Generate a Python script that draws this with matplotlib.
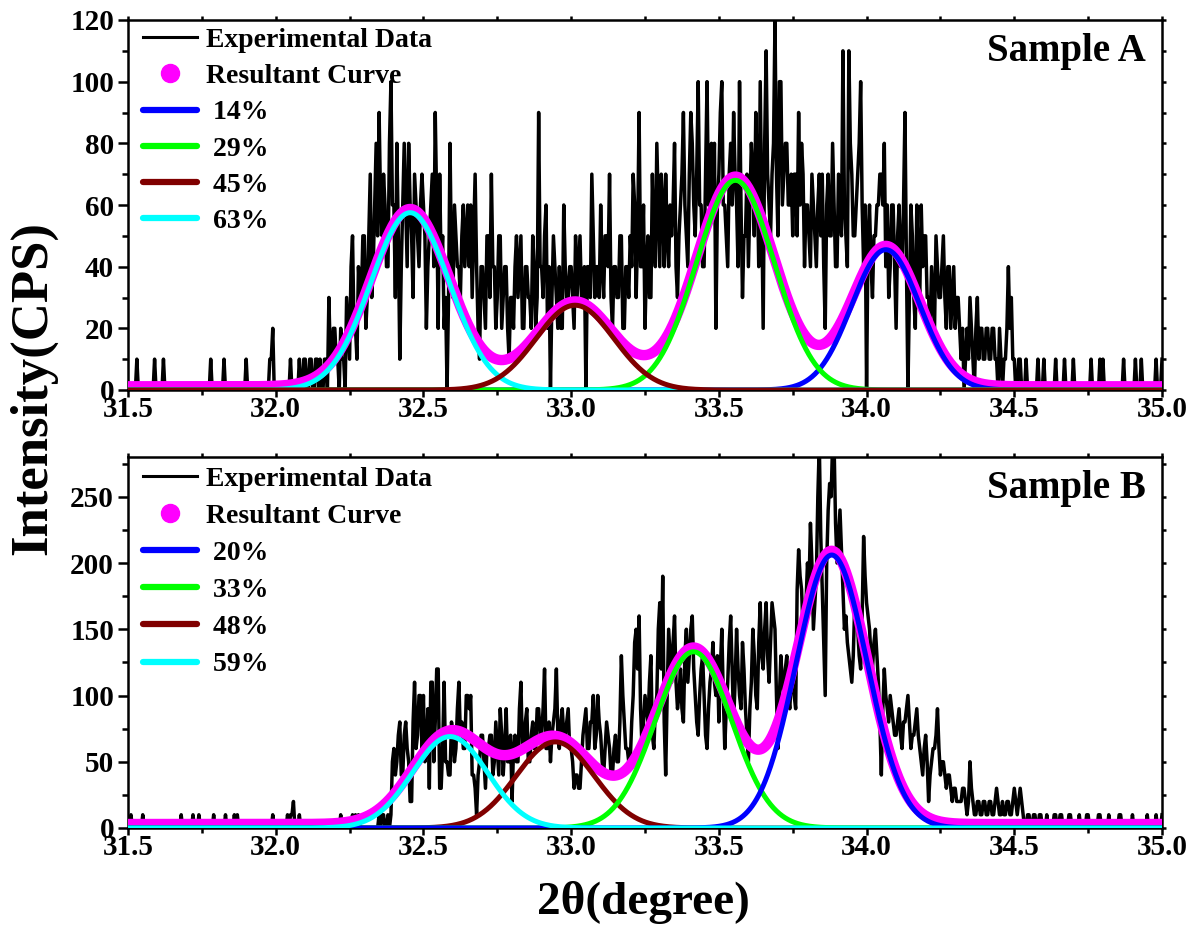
import numpy as np
import matplotlib
matplotlib.use("Agg")
import matplotlib.pyplot as plt
from matplotlib.lines import Line2D
from matplotlib.ticker import MultipleLocator, FormatStrFormatter

plt.rcParams['font.family'] = ['Liberation Serif', 'DejaVu Serif']
plt.rcParams['font.weight'] = 'bold'

# 2-theta scan grid (degrees), 0.005 step
two_theta = np.round(np.linspace(31.50, 35.00, 701), 3)

# Measured counts, Sample A (one row per 0.1 degree)
counts_a = sum([
    [0, 0, 0, 0, 0, 0, 10, 0, 0, 0, 0, 0, 0, 0, 0, 0, 0, 0, 10, 0],
    [0, 0, 0, 0, 10, 0, 0, 0, 0, 0, 0, 0, 0, 0, 0, 0, 0, 0, 0, 0],
    [0, 0, 0, 0, 0, 0, 0, 0, 0, 0, 0, 0, 0, 0, 0, 0, 10, 0, 0, 0],
    [0, 0, 0, 0, 0, 10, 0, 0, 0, 0, 0, 0, 0, 0, 0, 0, 0, 0, 0, 0],
    [10, 0, 0, 0, 0, 0, 0, 0, 0, 0, 0, 0, 0, 0, 0, 0, 10, 10, 20, 0],
    [0, 0, 0, 0, 0, 0, 0, 0, 0, 0, 10, 0, 0, 0, 0, 0, 10, 0, 0, 10],
    [10, 0, 0, 10, 10, 0, 0, 10, 10, 0, 10, 0, 0, 10, 10, 0, 30, 10, 10, 20],
    [20, 10, 10, 0, 20, 10, 10, 0, 30, 20, 10, 40, 50, 20, 20, 10, 40, 30, 30, 50],
    [50, 20, 30, 50, 70, 30, 40, 60, 80, 50, 90, 60, 50, 70, 60, 40, 40, 80, 100, 60],
    [60, 30, 80, 50, 10, 40, 60, 80, 60, 40, 80, 60, 50, 30, 70, 60, 50, 40, 60, 70],
    [60, 50, 20, 40, 50, 60, 70, 40, 90, 60, 20, 70, 40, 50, 20, 30, 0, 30, 80, 40],
    [30, 60, 50, 40, 40, 30, 50, 60, 40, 50, 60, 40, 60, 30, 50, 70, 40, 20, 10, 40],
    [40, 30, 20, 50, 50, 30, 70, 40, 40, 20, 30, 50, 50, 20, 30, 40, 40, 20, 10, 30],
    [30, 20, 40, 50, 30, 40, 50, 20, 20, 40, 40, 30, 30, 20, 50, 40, 20, 30, 90, 40],
    [40, 30, 50, 60, 20, 40, 0, 30, 50, 40, 30, 20, 40, 20, 20, 60, 40, 30, 30, 40],
    [40, 30, 20, 50, 30, 40, 50, 30, 30, 40, 0, 40, 40, 30, 70, 50, 30, 40, 40, 30],
    [60, 40, 30, 50, 50, 40, 70, 30, 20, 40, 40, 30, 30, 50, 50, 20, 20, 40, 40, 30],
    [50, 40, 70, 60, 30, 50, 90, 40, 40, 60, 20, 40, 50, 30, 30, 70, 50, 40, 80, 60],
    [40, 70, 60, 40, 70, 50, 40, 60, 50, 60, 80, 40, 30, 50, 60, 70, 90, 60, 50, 40],
    [70, 90, 80, 60, 50, 70, 100, 60, 60, 40, 40, 70, 100, 60, 60, 80, 60, 80, 20, 60],
    [70, 90, 100, 60, 60, 50, 40, 70, 80, 60, 90, 70, 60, 40, 100, 60, 30, 50, 50, 70],
    [40, 60, 80, 70, 50, 90, 70, 40, 100, 60, 20, 80, 110, 70, 60, 50, 70, 80, 120, 70],
    [50, 100, 100, 60, 70, 80, 80, 60, 60, 70, 50, 70, 70, 50, 90, 60, 80, 70, 40, 60],
    [60, 50, 40, 70, 60, 50, 40, 60, 70, 50, 70, 40, 20, 60, 70, 50, 50, 80, 60, 40],
    [40, 70, 60, 50, 110, 60, 50, 40, 110, 80, 70, 50, 50, 60, 70, 80, 100, 60, 40, 60],
    [0, 50, 60, 40, 30, 50, 50, 60, 60, 70, 70, 60, 80, 40, 60, 30, 40, 60, 60, 40],
    [20, 50, 60, 40, 40, 60, 90, 40, 0, 30, 60, 50, 30, 20, 60, 40, 30, 60, 40, 50],
    [50, 30, 30, 20, 40, 30, 20, 50, 40, 30, 30, 40, 50, 30, 20, 40, 40, 20, 30, 40],
    [20, 30, 30, 20, 10, 20, 0, 10, 20, 10, 30, 20, 10, 0, 20, 30, 10, 20, 20, 10],
    [10, 20, 20, 10, 10, 20, 20, 10, 10, 0, 20, 10, 0, 10, 10, 20, 40, 20, 30, 10],
    [10, 0, 0, 10, 10, 0, 0, 0, 10, 0, 0, 0, 0, 0, 0, 0, 10, 0, 0, 0],
    [10, 0, 0, 0, 0, 0, 0, 0, 10, 0, 0, 0, 0, 0, 10, 0, 0, 0, 0, 0],
    [10, 0, 0, 0, 0, 0, 0, 0, 0, 0, 0, 0, 10, 0, 0, 0, 0, 0, 10, 0],
    [10, 0, 0, 0, 0, 0, 0, 0, 0, 0, 0, 0, 0, 0, 10, 0, 0, 0, 0, 0],
    [0, 0, 10, 0, 0, 0, 10, 0, 0, 0, 0, 0, 0, 0, 0, 0, 10, 0, 0, 0],
    [10],
], [])

# Measured counts, Sample B (one row per 0.1 degree)
counts_b = sum([
    [0, 0, 10, 0, 0, 0, 0, 0, 0, 0, 10, 0, 0, 0, 0, 0, 0, 0, 0, 0],
    [0, 0, 0, 0, 0, 0, 0, 0, 0, 0, 0, 0, 0, 0, 0, 0, 10, 0, 0, 0],
    [0, 0, 0, 0, 10, 0, 0, 0, 10, 0, 0, 0, 0, 0, 0, 0, 0, 0, 10, 0],
    [0, 0, 0, 0, 0, 0, 10, 0, 0, 0, 0, 0, 10, 0, 10, 0, 0, 0, 0, 0],
    [0, 0, 0, 0, 0, 0, 0, 0, 0, 0, 0, 0, 0, 0, 0, 0, 0, 0, 10, 0],
    [0, 0, 0, 0, 0, 0, 0, 0, 10, 0, 10, 10, 20, 0, 0, 0, 10, 0, 0, 0],
    [0, 0, 0, 0, 0, 0, 0, 0, 0, 0, 0, 0, 0, 0, 0, 0, 0, 0, 0, 0],
    [0, 0, 0, 0, 10, 0, 0, 0, 0, 0, 0, 0, 10, 0, 10, 0, 10, 0, 0, 0],
    [0, 0, 0, 0, 0, 0, 0, 0, 0, 0, 10, 0, 10, 10, 0, 0, 10, 0, 10, 50],
    [60, 40, 50, 70, 80, 40, 40, 70, 80, 60, 50, 20, 20, 80, 110, 60, 70, 100, 100, 60],
    [100, 50, 60, 90, 30, 110, 110, 50, 80, 120, 120, 30, 30, 60, 110, 50, 50, 40, 40, 80],
    [70, 50, 60, 90, 110, 70, 80, 60, 60, 100, 100, 90, 100, 40, 40, 30, 10, 40, 50, 70],
    [70, 50, 30, 60, 60, 70, 70, 40, 50, 80, 60, 40, 90, 70, 40, 60, 90, 50, 50, 70],
    [20, 60, 70, 50, 50, 90, 110, 60, 60, 80, 90, 50, 50, 70, 80, 60, 60, 90, 90, 70],
    [70, 90, 120, 60, 60, 80, 50, 70, 80, 90, 120, 70, 60, 80, 90, 70, 70, 80, 90, 60],
    [60, 50, 30, 40, 40, 30, 30, 50, 70, 80, 90, 60, 60, 80, 80, 100, 60, 70, 100, 80],
    [70, 50, 40, 60, 80, 70, 60, 40, 40, 60, 70, 50, 50, 80, 130, 100, 80, 60, 60, 50],
    [50, 80, 100, 140, 150, 120, 160, 90, 60, 80, 100, 90, 80, 110, 130, 70, 60, 90, 100, 150],
    [170, 120, 190, 80, 40, 100, 150, 130, 110, 140, 160, 110, 90, 100, 120, 90, 80, 130, 150, 110],
    [130, 150, 160, 120, 100, 80, 70, 100, 120, 130, 100, 70, 60, 90, 110, 120, 140, 110, 100, 130],
    [80, 120, 150, 100, 60, 90, 110, 140, 160, 120, 80, 110, 150, 120, 100, 90, 140, 120, 90, 70],
    [50, 90, 110, 150, 130, 100, 90, 140, 170, 130, 120, 150, 170, 130, 110, 140, 170, 160, 150, 100],
    [60, 100, 130, 110, 100, 120, 130, 100, 90, 110, 120, 100, 90, 180, 210, 190, 180, 150, 150, 170],
    [200, 180, 230, 200, 150, 170, 190, 250, 290, 220, 180, 140, 100, 200, 240, 260, 250, 290, 290, 230],
    [200, 220, 240, 210, 180, 150, 160, 140, 130, 120, 110, 130, 170, 160, 150, 130, 120, 160, 220, 190],
    [170, 160, 150, 130, 120, 140, 150, 130, 110, 80, 40, 90, 120, 100, 90, 80, 100, 90, 80, 70],
    [70, 80, 90, 70, 60, 80, 80, 90, 100, 80, 60, 70, 70, 80, 90, 70, 60, 50, 40, 60],
    [70, 50, 20, 40, 50, 60, 60, 70, 90, 60, 40, 50, 50, 40, 30, 40, 40, 30, 20, 30],
    [30, 20, 20, 20, 20, 30, 30, 20, 10, 20, 50, 30, 20, 10, 10, 20, 20, 10, 10, 20],
    [20, 10, 10, 20, 20, 10, 10, 20, 30, 20, 10, 10, 20, 10, 10, 20, 20, 10, 10, 20],
    [30, 20, 10, 20, 30, 20, 10, 0, 0, 10, 10, 0, 0, 10, 10, 0, 0, 10, 10, 0],
    [0, 0, 10, 0, 0, 0, 0, 10, 10, 0, 0, 10, 10, 0, 0, 0, 0, 10, 10, 0],
    [0, 0, 0, 0, 10, 0, 0, 0, 0, 10, 10, 0, 0, 0, 0, 0, 0, 10, 10, 0],
    [0, 0, 0, 0, 10, 0, 0, 0, 0, 0, 0, 10, 10, 0, 0, 0, 0, 0, 0, 0],
    [10, 0, 0, 0, 0, 0, 0, 0, 0, 0, 10, 0, 0, 0, 0, 0, 10, 0, 0, 0],
    [10],
], [])

# Gaussian components of the fit (legend order)
labels_a = [' 14%', ' 29%', ' 45%', ' 63%']
centers_a = [34.065, 33.556, 33.013, 32.455]
heights_a = [45.5, 68.0, 27.5, 57.5]
sigmas_a = [0.115, 0.132, 0.132, 0.133]
offset_a = 1.2

labels_b = [' 20%', ' 33%', ' 48%', ' 59%']
centers_b = [33.882, 33.414, 32.946, 32.590]
heights_b = [206.0, 133.0, 65.0, 69.0]
sigmas_b = [0.120, 0.130, 0.132, 0.127]
offset_b = 3.0

comp_colors = ['#0000FF', '#00FF00', '#800000', '#00FFFF']
fit_color = '#FF00FF'

W, H = 1203, 933
fig = plt.figure(figsize=(W / 100, H / 100), dpi=100)

x_left, x_right = 128 / W, 1162 / W
ax_a = fig.add_axes([x_left, 1 - 390 / H, x_right - x_left, (390 - 20) / H])
ax_b = fig.add_axes([x_left, 1 - 828 / H, x_right - x_left, (828 - 457) / H])

xf = np.linspace(31.5, 35.0, 1401)


def gauss(x, c, h, s):
    return h * np.exp(-0.5 * ((x - c) / s) ** 2)


def draw_panel(ax, counts, labels, centers, heights, sigmas, offset,
               ymax, ymajor, yminor, title, comp_order, legend_shift, row_gap):
    ax.plot(two_theta, counts, color='black', lw=2.5, zorder=2)
    comps = [gauss(xf, c, h, s) for c, h, s in zip(centers, heights, sigmas)]
    total = offset + np.sum(comps, axis=0)
    ax.plot(xf, total, color=fit_color, lw=7.5, solid_capstyle='round', zorder=3)
    for k, i in enumerate(comp_order):
        ax.plot(xf, comps[i], color=comp_colors[i], lw=3.6, zorder=4 + k)

    ax.set_xlim(31.5, 35.0)
    ax.set_ylim(0, ymax)
    ax.xaxis.set_major_locator(MultipleLocator(0.5))
    ax.xaxis.set_minor_locator(MultipleLocator(0.25))
    ax.xaxis.set_major_formatter(FormatStrFormatter('%.1f'))
    ax.yaxis.set_major_locator(MultipleLocator(ymajor))
    ax.yaxis.set_minor_locator(MultipleLocator(yminor))
    for sp in ax.spines.values():
        sp.set_linewidth(1.8)
    ax.tick_params(axis='both', which='both', direction='out', width=1.8,
                   top=True, right=True)
    ax.tick_params(axis='y', which='major', length=7, labelsize=21, pad=3)
    ax.tick_params(axis='y', which='minor', length=4.5)
    ax.tick_params(axis='x', which='major', length=5, labelsize=21, pad=-1)
    ax.tick_params(axis='x', which='minor', length=3.5)
    for t in ax.get_xticklabels() + ax.get_yticklabels():
        t.set_fontweight('bold')
    # short ticks on the top and right spines
    for tick in (ax.xaxis.get_major_ticks() + ax.xaxis.get_minor_ticks() +
                 ax.yaxis.get_major_ticks() + ax.yaxis.get_minor_ticks()):
        tick.tick2line.set_markersize(3)

    handles = [Line2D([], [], color='black', lw=2.2),
               Line2D([], [], color=fit_color, lw=0, marker='o', markersize=13)]
    handles += [Line2D([], [], color=col, lw=4.5, solid_capstyle='round') for col in comp_colors]
    names = ['Experimental Data', 'Resultant Curve'] + labels
    ax.legend(handles, names, loc='upper left', frameon=False,
              bbox_to_anchor=(0.0, 1.0 + legend_shift),
              prop={'family': 'Liberation Serif', 'weight': 'bold', 'size': 20},
              handlelength=1.95, handletextpad=0.3, labelspacing=row_gap,
              borderaxespad=0.25, borderpad=0.3)
    ax.text(0.984, 0.965, title, transform=ax.transAxes, ha='right', va='top',
            fontsize=28, fontweight='bold')


draw_panel(ax_a, counts_a, labels_a, centers_a, heights_a, sigmas_a, offset_a,
           120, 20, 10, 'Sample A', [0, 1, 3, 2], 8 / 370, 0.39)
draw_panel(ax_b, counts_b, labels_b, centers_b, heights_b, sigmas_b, offset_b,
           280, 50, 25, 'Sample B', [2, 1, 0, 3], 6 / 371, 0.42)

fig.text(33 / W, 1 - 388 / H, 'Intensity(CPS)', rotation=90, ha='center', va='center',
         fontsize=38, fontweight='bold')
fig.text(643 / W, 1 - 903 / H, '2\u03b8(degree)', ha='center', va='center',
         fontsize=34, fontweight='bold')

fig.savefig('out.png', dpi=100)
